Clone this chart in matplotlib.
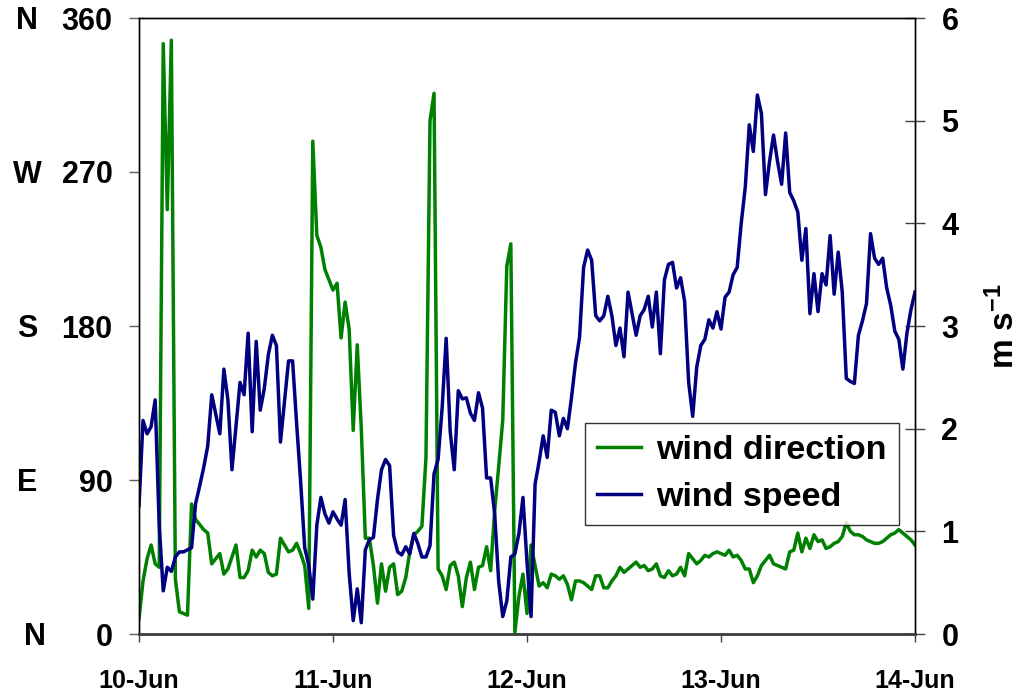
import numpy as np
import pandas as pd
import matplotlib
matplotlib.use("Agg")
import matplotlib.pyplot as plt
import matplotlib.dates as mdates

plt.rcParams['font.family'] = ['Liberation Sans', 'DejaVu Sans']
plt.rcParams['font.weight'] = 'bold'
plt.rcParams['mathtext.fontset'] = 'custom'
plt.rcParams['mathtext.rm'] = 'Liberation Sans:bold'
plt.rcParams['mathtext.bf'] = 'Liberation Sans:bold'
plt.rcParams['mathtext.default'] = 'bf'

# half-hourly samples, 10-Jun 00:00 to 14-Jun 00:00
start = "2000-06-10 00:00"
n_points = 193

# wind direction (degrees)
wind_dir = [
    # 10-Jun
    9, 31, 44, 52, 41, 39, 345, 248, 347, 32, 13, 12, 11, 76, 67, 64,
    61, 59, 41, 44, 47, 35, 38, 45, 52, 33, 33, 37, 49, 45, 49, 47,
    36, 34, 35, 56, 52, 48, 49, 53, 47, 40, 15, 288, 233, 226, 213, 207,
    # 11-Jun
    201, 205, 173, 194, 178, 119, 169, 120, 56, 56, 40, 18, 41, 25, 39, 41,
    23, 25, 33, 48, 58, 60, 63, 103, 300, 316, 38, 34, 26, 40, 42, 34,
    16, 33, 42, 26, 39, 40, 51, 37, 72, 98, 125, 215, 228, 1, 22, 35,
    # 12-Jun
    12, 52, 40, 28, 30, 27, 35, 34, 32, 34, 29, 20, 31, 31, 30, 28,
    26, 34, 34, 27, 27, 31, 34, 39, 36, 38, 40, 42, 39, 40, 37, 38,
    41, 34, 33, 37, 34, 35, 39, 34, 47, 44, 41, 43, 46, 45, 47, 48,
    # 13-Jun
    47, 46, 49, 45, 46, 43, 38, 38, 30, 34, 40, 43, 46, 41, 40, 39,
    38, 48, 49, 59, 48, 56, 50, 58, 54, 55, 50, 51, 53, 54, 57, 65,
    60, 58, 58, 57, 55, 54, 53, 53, 54, 56, 58, 59, 61, 59, 57, 55,
    # 14-Jun
    52,
]

# wind speed (m/s)
wind_spd = [
    # 10-Jun
    1.25, 2.08, 1.95, 2.02, 2.28, 1.06, 0.42, 0.65, 0.61, 0.75, 0.80, 0.80, 0.82, 0.84, 1.27, 1.44,
    1.62, 1.83, 2.33, 2.14, 1.95, 2.58, 2.28, 1.60, 2.02, 2.45, 2.33, 2.93, 1.97, 2.85, 2.18, 2.39,
    2.72, 2.91, 2.81, 1.87, 2.26, 2.66, 2.66, 2.05, 1.48, 0.84, 0.67, 0.34, 1.06, 1.33, 1.17, 1.08,
    # 11-Jun
    1.19, 1.12, 1.06, 1.31, 0.59, 0.13, 0.44, 0.11, 0.82, 0.92, 0.94, 1.31, 1.60, 1.70, 1.64, 0.96,
    0.80, 0.77, 0.85, 0.78, 0.98, 0.88, 0.75, 0.75, 0.86, 1.56, 1.70, 2.20, 2.88, 1.97, 1.60, 2.37,
    2.29, 2.30, 2.15, 2.08, 2.35, 2.20, 1.52, 1.52, 1.17, 0.51, 0.17, 0.32, 0.75, 0.78, 0.98, 1.33,
    # 12-Jun
    0.70, 0.17, 1.46, 1.68, 1.93, 1.72, 2.18, 2.16, 1.93, 2.10, 2.00, 2.30, 2.64, 2.89, 3.57, 3.74,
    3.64, 3.10, 3.05, 3.10, 3.29, 3.10, 2.81, 2.98, 2.70, 3.33, 3.12, 2.91, 3.10, 3.16, 3.29, 2.99,
    3.33, 2.73, 3.45, 3.60, 3.62, 3.37, 3.47, 3.24, 2.45, 2.12, 2.60, 2.81, 2.87, 3.06, 2.98, 3.14,
    # 13-Jun
    2.97, 3.28, 3.33, 3.50, 3.57, 4.00, 4.35, 4.96, 4.70, 5.25, 5.07, 4.28, 4.60, 4.86, 4.60, 4.38,
    4.88, 4.30, 4.22, 4.11, 3.64, 3.95, 3.12, 3.51, 3.14, 3.51, 3.40, 3.88, 3.31, 3.72, 3.33, 2.49,
    2.46, 2.44, 2.91, 3.05, 3.22, 3.90, 3.66, 3.60, 3.66, 3.37, 3.20, 2.95, 2.87, 2.58, 2.93, 3.16,
    # 14-Jun
    3.33,
]

compass = ["N", "E", "S", "W", "N"]
dir_ticks = [0, 90, 180, 270, 360]

times = pd.date_range(start, periods=n_points, freq="30min")

fig = plt.figure(figsize=(10.24, 7.0), dpi=100)
ax = fig.add_axes([139 / 1024, 1 - 634 / 700, (915 - 139) / 1024, (634 - 18) / 700])
ax2 = ax.twinx()

l1, = ax.plot(times, wind_dir, color="#008000", lw=2.5, label="wind direction")
l2, = ax2.plot(times, wind_spd, color="#000080", lw=2.5, label="wind speed")

ax.set_xlim(times[0], times[-1])
ax.set_ylim(0, 360)
ax2.set_ylim(0, 6)
ax.set_yticks(dir_ticks)
ax2.set_yticks(range(0, 7))

ax.xaxis.set_major_locator(mdates.DayLocator())
ax.xaxis.set_major_formatter(mdates.DateFormatter("%d-%b"))

ax.tick_params(axis="x", direction="out", length=6, width=1, color="#404040",
               labelsize=18, pad=19)
ax.tick_params(axis="y", direction="out", length=7, width=1, color="#606060",
               labelsize=22, pad=12)
ax2.tick_params(axis="y", direction="inout", length=14, width=1, color="#404040",
                labelsize=22, pad=12)

for a in (ax, ax2):
    for s in a.spines.values():
        s.set_color("black")
        s.set_linewidth(1.0)
    a.spines["bottom"].set_color("#404040")
    a.spines["bottom"].set_linewidth(1.8)

# compass letters next to the direction axis
for lab, val in zip(compass, dir_ticks):
    xpos = 35 if (lab == "N" and val == 0) else 27
    ax.annotate(lab, xy=(xpos / 1024, val), xycoords=("figure fraction", "data"),
                xytext=(0, -2), textcoords="offset points",
                ha="center", va="center", fontsize=22, fontweight="bold",
                annotation_clip=False)

ax2.set_ylabel("m s$^{-1}$", fontsize=24, fontweight="bold", labelpad=20)

leg = ax2.legend([l1, l2], ["wind direction", "wind speed"],
                 loc="upper right", bbox_to_anchor=(0.979, 0.343),
                 borderaxespad=0, fontsize=24.5, frameon=True, fancybox=False,
                 handlelength=1.3, handletextpad=0.45, borderpad=0.35,
                 labelspacing=0.48)
leg.get_frame().set_edgecolor("black")
leg.get_frame().set_linewidth(1.0)

fig.savefig("out.png", dpi=100)
